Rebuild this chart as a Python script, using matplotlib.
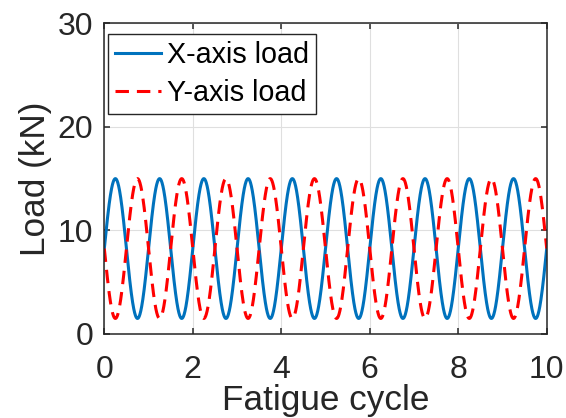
import numpy as np
import matplotlib
matplotlib.use("Agg")
from matplotlib import pyplot as plt

plt.rcParams['font.family'] = ['Liberation Sans', 'DejaVu Sans']

# load signals (kN), one cycle per unit of x
mean_load = 8.25
amp_load = 6.75
n_cycles = 10
x_phase = 0.0      # X-axis load rises from the mean at 0
y_phase = 0.5      # Y-axis load is half a cycle behind (falls from the mean)

x_ticks = [0, 2, 4, 6, 8, 10]
y_ticks = [0, 10, 20, 30]
labels = ["X-axis load", "Y-axis load"]

t = np.linspace(0, n_cycles, 2001)
load_x = mean_load + amp_load * np.sin(2 * np.pi * (t + x_phase))
load_y = mean_load + amp_load * np.sin(2 * np.pi * (t + y_phase))

fig = plt.figure(figsize=(5.66, 4.18), dpi=100)
ax = fig.add_axes([0.1843, 0.2010, 0.7816, 0.7433])

ax.plot(t, load_x, color='#0072BD', lw=2.2, label=labels[0])
ax.plot(t, load_y, color='#FF0000', lw=2.2, ls=(0, (4.4, 2.6)), label=labels[1])

ax.set_xlim(0, 10)
ax.set_ylim(0, 30)
ax.set_xticks(x_ticks)
ax.set_yticks(y_ticks)
ax.grid(True, color='#dfdfdf', lw=0.8)
ax.set_axisbelow(True)

for s in ax.spines.values():
    s.set_color('#262626')
    s.set_linewidth(1.1)
ax.tick_params(direction='in', length=4, width=1.1, color='#262626',
               labelsize=23, labelcolor='#262626', top=True, right=True)
ax.tick_params(axis='x', pad=15)
ax.tick_params(axis='y', pad=8)

ax.set_xlabel("Fatigue cycle", fontsize=25.3, color='#262626')
ax.set_ylabel("Load (kN)", fontsize=25.3, color='#262626')
ax.xaxis.set_label_coords(0.5, -0.161)
ax.yaxis.set_label_coords(-0.119, 0.5)

leg = ax.legend(loc='upper left', bbox_to_anchor=(0.0084, 0.9656), fontsize=20.7,
                frameon=True, fancybox=False, framealpha=1, edgecolor='#262626',
                borderpad=0.25, handlelength=1.6, handletextpad=0.2,
                labelspacing=0.35, borderaxespad=0)
leg.get_frame().set_linewidth(1.0)

fig.savefig("out.png", dpi=100)
